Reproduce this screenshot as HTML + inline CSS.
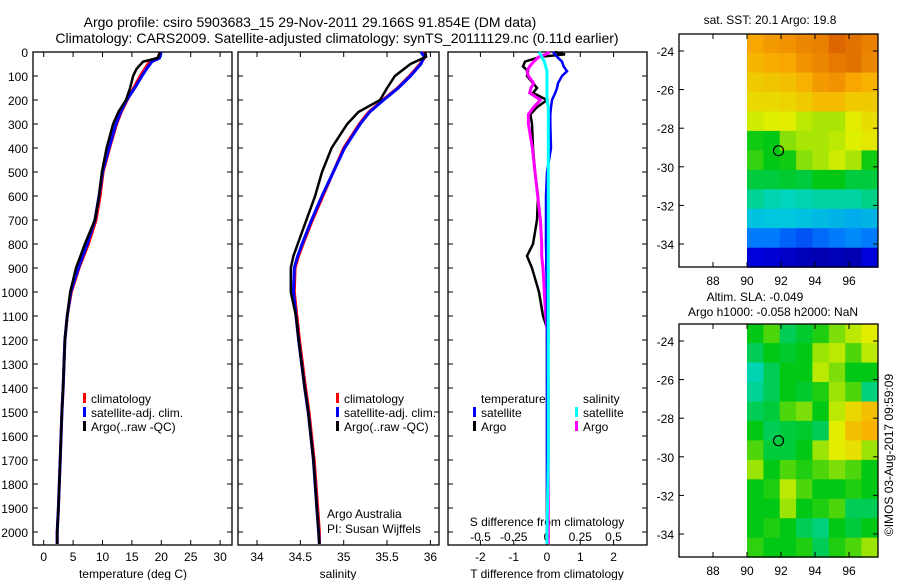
<!DOCTYPE html>
<html><head><meta charset="utf-8"><style>
body{margin:0;background:#fff;}
svg{display:block;font-family:"Liberation Sans",sans-serif;}
text{fill:#000;}
</style></head><body>
<svg id="fig" width="900" height="580" viewBox="0 0 900 580">
<text x="310" y="27" font-size="14" text-anchor="middle">Argo profile: csiro 5903683_15 29-Nov-2011 29.166S 91.854E (DM data)</text>
<text x="337" y="43" font-size="14" text-anchor="middle">Climatology: CARS2009. Satellite-adjusted climatology: synTS_20111129.nc (0.11d earlier)</text>
<g id="p1"></g>
<g id="p2"></g>
<g id="p3"></g>
<g id="m1"></g>
<g id="m2"></g>
<text x="770" y="24" font-size="12" text-anchor="middle">sat. SST: 20.1 Argo: 19.8</text>
<text x="755" y="301" font-size="12" text-anchor="middle">Altim. SLA: -0.049</text>
<text x="773" y="316" font-size="12" text-anchor="middle">Argo h1000: -0.058 h2000: NaN</text>
<text transform="translate(893,455) rotate(-90)" font-size="12" text-anchor="middle">©IMOS 03-Aug-2017 09:59:09</text>
</svg>
<script>
// ---- data ----
const pressT = [0,25,40,70,100,150,200,250,300,400,500,600,700,800,900,1000,1100,1200,1400,1500,1700,1900,2000,2050];
const argoT  = [19.8,19.4,16.9,15.8,15.2,14.7,14.0,12.7,11.8,10.7,9.9,9.4,8.7,7.0,5.5,4.5,4.0,3.6,3.3,3.1,2.8,2.5,2.3,2.3];
const satT   = [20.0,19.7,18.4,17.5,16.7,15.5,14.1,13.1,12.3,11.1,10.0,9.4,8.7,7.4,5.9,4.6,4.0,3.6,3.3,3.1,2.8,2.5,2.3,2.3];
const climT  = [19.8,19.4,18.0,17.2,16.4,15.3,14.2,13.2,12.4,11.2,10.1,9.6,8.9,7.6,6.0,4.7,4.0,3.6,3.3,3.1,2.8,2.5,2.3,2.3];
const pressS = [0,20,50,100,150,200,250,300,400,500,600,700,800,850,900,1000,1100,1200,1400,1500,1700,1900,2000,2050];
const argoS  = [35.94,35.95,35.77,35.59,35.50,35.42,35.17,35.04,34.86,34.75,34.67,34.57,34.47,34.42,34.39,34.39,34.45,34.48,34.55,34.59,34.65,34.69,34.71,34.72];
const satS   = [35.89,35.93,35.89,35.77,35.63,35.46,35.30,35.19,35.01,34.88,34.75,34.63,34.52,34.47,34.43,34.42,34.45,34.48,34.55,34.59,34.65,34.69,34.71,34.72];
const climS  = [35.92,35.94,35.88,35.76,35.62,35.45,35.29,35.18,35.00,34.88,34.76,34.64,34.53,34.48,34.44,34.43,34.46,34.49,34.56,34.60,34.66,34.70,34.72,34.72];
const pressD = [0,10,20,40,60,80,100,130,150,170,200,230,260,300,400,500,600,700,800,850,900,1000,1100,1150,1400,1700,2000,2050];
const argoTdiff = [0.24,0.54,-0.2,-0.66,-0.72,-0.57,-0.6,-0.42,-0.3,-0.42,0,-0.3,-0.5,-0.45,-0.42,-0.36,-0.27,-0.3,-0.42,-0.6,-0.45,-0.24,-0.12,0,0,0,0,0];
const satTdiff  = [0.18,0.24,0.3,0.45,0.5,0.6,0.45,0.33,0.3,0.25,0.15,0.12,0.1,0.1,0.12,0.0,-0.03,-0.03,-0.03,-0.02,-0.02,0.0,0.0,0.0,0.0,0.0,0.0,0.0];
const argoSdiff = [0.02,-0.01,-0.06,-0.1,-0.13,-0.15,-0.14,-0.1,-0.12,-0.13,-0.05,-0.1,-0.14,-0.14,-0.11,-0.09,-0.07,-0.05,-0.04,-0.04,-0.03,-0.02,-0.01,0.0,0.01,0.01,0.01,0.01];
const satSdiff  = [-0.06,-0.05,-0.04,-0.02,-0.01,0.0,0.0,0.0,0.0,0.0,0.0,0.01,0.01,0.01,0.01,0.01,0.01,0.01,0.01,0.01,0.01,0.01,0.01,0.01,0.01,0.01,0.0,0.0];
const pTicks = [0,100,200,300,400,500,600,700,800,900,1000,1100,1200,1300,1400,1500,1600,1700,1800,1900,2000];
const tTicks = [0,5,10,15,20,25,30];
const sTicks = [34,34.5,35,35.5,36];
const dTicks = [-2,-1,0,1,2];
const sdTicks = [-0.5,-0.25,0,0.25,0.5];
const sdTickLabels = ["-0.5","-0.25","0","0.25","0.5"];
const lonTicks = [88,90,92,94,96];
const latTicks = [-24,-26,-28,-30,-32,-34];
const argoLon = 91.854, argoLat = -29.166;
const sstGrid = [
[22.3,22.5,22.6,22.8,22.9,23.3,23.1,22.9],
[22.0,22.2,22.3,22.6,22.8,23.0,23.1,22.8],
[21.6,21.7,21.8,22.1,22.5,22.6,22.3,22.1],
[21.3,21.3,21.4,21.6,21.9,21.9,21.6,21.6],
[20.7,20.8,20.9,20.6,20.5,20.5,20.9,21.2],
[19.6,19.5,20.3,20.5,20.5,20.6,20.8,21.0],
[19.8,19.5,19.6,20.3,20.5,20.7,20.5,19.6],
[19.2,19.2,19.3,19.2,19.5,19.5,19.2,19.2],
[18.6,18.4,18.3,18.4,18.5,18.5,18.5,18.7],
[17.8,17.9,17.9,17.8,17.7,17.6,17.5,17.6],
[16.8,16.8,16.5,16.3,16.6,16.8,17.0,16.8],
[15.3,15.2,15.0,14.8,14.7,14.8,14.7,15.3]];
const slaGrid = [
[0.0,0.05,-0.05,-0.02,0.02,0.08,0.12,0.15],
[-0.05,0.0,-0.02,0.0,0.1,0.12,0.05,0.12],
[-0.12,-0.05,0.0,0.0,0.12,0.08,0.0,0.0],
[-0.1,-0.05,0.0,-0.02,0.02,0.1,0.05,-0.08],
[-0.05,-0.03,0.05,0.08,0.0,0.12,0.2,0.25],
[0.0,-0.05,-0.03,-0.02,-0.05,0.15,0.25,0.28],
[0.05,-0.03,-0.03,0.0,0.1,0.15,0.18,0.1],
[0.1,0.0,0.05,0.02,0.05,0.08,0.05,0.0],
[0.0,0.02,0.12,0.05,0.0,0.0,0.02,0.0],
[0.0,0.0,0.1,0.0,0.02,0.05,-0.05,-0.05],
[0.0,0.02,0.0,-0.05,-0.08,0.0,-0.03,0.0],
[0.03,0.0,0.0,0.02,-0.05,0.02,0.05,0.1]];

// ---- helpers ----
const NS="http://www.w3.org/2000/svg";
function mk(parent,tag,attrs,txt){const e=document.createElementNS(NS,tag);for(const k in attrs)e.setAttribute(k,attrs[k]);if(txt!==undefined)e.textContent=txt;parent.appendChild(e);return e;}
const yP = p => 52 + p*0.24;
const xT = t => 43.7 + t*5.88;
const xS = s => 257 + (s-34)*86.7;
const xD = d => 547 + d*33.3;
const xSD = s => 547 + s*133;
const TOP=52, BOT=545;

function panelBox(g,x0,x1){
  const r=mk(g,'rect',{x:x0,y:TOP,width:x1-x0,height:BOT-TOP,fill:'none',stroke:'#000','stroke-width':1.3});
  
  
  pTicks.forEach(p=>{
    const a=mk(g,'line',{x1:x0,x2:x0+5,y1:yP(p),y2:yP(p),stroke:'#000'});
    
    
    const b=mk(g,'line',{x1:x1-5,x2:x1,y1:yP(p),y2:yP(p),stroke:'#000'});
    
    
  });
}
function xTicks(g,vals,labels,fx,ly){
  vals.forEach((v,i)=>{
    const a=mk(g,'line',{x1:fx(v),x2:fx(v),y1:TOP,y2:TOP+5,stroke:'#000'});
    
    
    const b=mk(g,'line',{x1:fx(v),x2:fx(v),y1:BOT-5,y2:BOT,stroke:'#000'});
    
    
    const t=mk(g,'text',{x:fx(v),y:ly,'font-size':12,'text-anchor':'middle'},labels[i]);
    
    
  });
}
function line(g,xs,ps,fx,color,w,name){
  const d=xs.map((v,i)=>(i?'L':'M')+fx(v).toFixed(1)+','+yP(ps[i]).toFixed(1)).join('');
  const e=mk(g,'path',{d:d,fill:'none',stroke:color,'stroke-width':w,'stroke-linejoin':'miter'});
  
  
}
function legendRow(g,x,y,color,label,name){
  const r=mk(g,'rect',{x:x,y:y-10,width:3,height:10,fill:color});
  
  
  const t=mk(g,'text',{x:x+8,y:y,'font-size':12},label);
  
  
}
function label(g,x,y,txt,name,anchor){
  const t=mk(g,'text',{x:x,y:y,'font-size':12,'text-anchor':anchor||'middle'},txt);
  
  
}

// ---- panel 1 ----
const g1=document.getElementById('p1');
panelBox(g1,33,232);
pTicks.forEach(p=>{label(g1,28,yP(p)+5,String(p),'y-tick-label','end');});
xTicks(g1,tTicks,tTicks.map(String),xT,561);
label(g1,133,578,'temperature (deg C)','x-axis-title');
line(g1,climT,pressT,xT,'#ff0000',3,'climatology-temperature-line');
line(g1,satT,pressT,xT,'#0000ff',3,'satellite-temperature-line');
line(g1,argoT,pressT,xT,'#000000',2.5,'argo-temperature-line');
legendRow(g1,83,403,'#ff0000','climatology','legend-climatology');
legendRow(g1,83,417,'#0000ff','satellite-adj. clim.','legend-satellite');
legendRow(g1,83,431,'#000000','Argo(..raw -QC)','legend-argo');

// ---- panel 2 ----
const g2=document.getElementById('p2');
panelBox(g2,238,439);
xTicks(g2,sTicks,sTicks.map(String),xS,561);
label(g2,338,578,'salinity','x-axis-title');
line(g2,climS,pressS,xS,'#ff0000',3,'climatology-salinity-line');
line(g2,satS,pressS,xS,'#0000ff',3,'satellite-salinity-line');
line(g2,argoS,pressS,xS,'#000000',2.5,'argo-salinity-line');
legendRow(g2,336,403,'#ff0000','climatology','legend-climatology');
legendRow(g2,336,417,'#0000ff','satellite-adj. clim.','legend-satellite');
legendRow(g2,336,431,'#000000','Argo(..raw -QC)','legend-argo');
label(g2,327,518,'Argo Australia','operator-label','start');
label(g2,327,533,'PI: Susan Wijffels','pi-label','start');

// ---- panel 3 ----
const g3=document.getElementById('p3');
panelBox(g3,448,647);
xTicks(g3,dTicks,dTicks.map(String),xD,561);
sdTicks.forEach((v,i)=>label(g3,xSD(v),541,sdTickLabels[i],'s-diff-tick-label'));
label(g3,547,526,'S difference from climatology','s-diff-axis-title');
label(g3,547,578,'T difference from climatology','x-axis-title');
line(g3,argoTdiff,pressD,xD,'#000000',2.5,'argo-t-diff-line');
line(g3,argoSdiff,pressD,xSD,'#ff00ff',3,'argo-s-diff-line');
line(g3,satTdiff,pressD,xD,'#0000ff',2.5,'satellite-t-diff-line');
line(g3,satSdiff,pressD,xSD,'#00ffff',3,'satellite-s-diff-line');
label(g3,481,403,'temperature','legend-temperature-header','start');
label(g3,583,403,'salinity','legend-salinity-header','start');
legendRow(g3,473,417,'#0000ff','satellite','legend-t-satellite');
legendRow(g3,473,431,'#000000','Argo','legend-t-argo');
legendRow(g3,575,417,'#00ffff','satellite','legend-s-satellite');
legendRow(g3,575,431,'#ff00ff','Argo','legend-s-argo');

// ---- maps ----
const cStops=[[0,0,0,130],[0.12,0,0,220],[0.25,0,120,255],[0.375,0,215,215],[0.5,0,200,20],[0.62,225,240,0],[0.75,250,170,0],[0.87,215,85,0],[1,150,0,0]];
function cmap(t){t=Math.max(0,Math.min(1,t));
  for(let i=1;i<cStops.length;i++){if(t<=cStops[i][0]){const a=cStops[i-1],b=cStops[i];const f=(t-a[0])/(b[0]-a[0]);
    return 'rgb('+[1,2,3].map(k=>Math.round(a[k]+(b[k]-a[k])*f)).join(',')+')';}}
  return 'rgb(150,0,0)';}
function drawMap(g,yoff,grid,vmin,vmax,name){
  const X0=679,X1=878,Y0=34+yoff,Y1=267+yoff;
  const xL=l=>713+(l-88)*17;
  const yL=la=>51+yoff+(-24-la)*19.3;
  const lon0=90, lon1=97.7, lat0=-23.1, lat1=-35.2;
  const nr=grid.length, nc=grid[0].length;
  const dlon=(lon1-lon0)/nc, dlat=(lat0-lat1)/nr;
  grid.forEach((row,i)=>row.forEach((v,j)=>{
    const xa=xL(lon0+j*dlon), xb=xL(lon0+(j+1)*dlon);
    const ya=yL(lat0-i*dlat), yb=yL(lat0-(i+1)*dlat);
    const r=mk(g,'rect',{x:xa.toFixed(1),y:ya.toFixed(1),width:(xb-xa+0.6).toFixed(1),height:(yb-ya+0.6).toFixed(1),fill:cmap((v-vmin)/(vmax-vmin))});
    
    
  }));
  const f=mk(g,'rect',{x:X0,y:Y0,width:X1-X0,height:Y1-Y0,fill:'none',stroke:'#000','stroke-width':1.3});
  
  
  latTicks.forEach(la=>{
    const a=mk(g,'line',{x1:X0,x2:X0+5,y1:yL(la),y2:yL(la),stroke:'#000'});
    
    
    const b=mk(g,'line',{x1:X1-5,x2:X1,y1:yL(la),y2:yL(la),stroke:'#000'});
    
    
    label(g,674,yL(la)+5,String(la),'lat-tick-label','end');
  });
  lonTicks.forEach(l=>{
    const a=mk(g,'line',{x1:xL(l),x2:xL(l),y1:Y0,y2:Y0+5,stroke:'#000'});
    
    
    const b=mk(g,'line',{x1:xL(l),x2:xL(l),y1:Y1-5,y2:Y1,stroke:'#000'});
    
    
    label(g,xL(l),Y1+18,String(l),'lon-tick-label');
  });
  const c=mk(g,'circle',{cx:xL(argoLon),cy:yL(argoLat),r:5,fill:'none',stroke:'#000','stroke-width':1.2});
  
  
}
drawMap(document.getElementById('m1'),0,sstGrid,14,25,'sst');
drawMap(document.getElementById('m2'),290,slaGrid,-0.6,0.6,'sla');
</script>
</body></html>
